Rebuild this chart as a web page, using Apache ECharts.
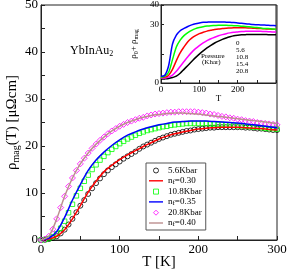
<!DOCTYPE html>
<html><head><meta charset="utf-8">
<script src="https://cdn.jsdelivr.net/npm/echarts@6/dist/echarts.min.js"></script>
<style>html,body{margin:0;padding:0;background:#fff}#c{width:287px;height:271px}</style>
</head><body><div id="c"></div>
<script>
// ---- data ----
const T5 = [0,5,10,15,20,25,30,35,40,45,50,55,60,65,70,75,80,85,90,95,100,105,110,115,120,125,130,135,140,145,150,155,160,165,170,175,180,185,190,195,200,205,210,215,220,225,230,235,240,245,250,255,260,265,270,275,280,285,290,295,300];
const T10 = [0,10,20,30,40,50,60,70,80,90,100,110,120,130,140,150,160,170,180,190,200,210,220,230,240,250,260,270,280,290,300];

// main panel: measured (markers, every 5 K)
const p56 = [0,0.05,0.2,0.45,0.8,1.4,2.2,3.3,4.5,5.9,7.3,8.5,9.8,11.0,12.1,13.1,14.0,14.8,15.5,16.1,16.7,17.3,17.8,18.3,18.8,19.4,19.9,20.3,20.7,21.1,21.5,21.8,22.1,22.4,22.6,22.8,23.0,23.2,23.3,23.5,23.6,23.7,23.8,23.9,23.9,24.0,24.0,24.0,24.0,24.0,24.0,24.0,23.9,23.9,23.8,23.7,23.7,23.6,23.5,23.4,23.4];
const p108 = [0,0.1,0.3,0.7,1.3,2.5,4.0,5.8,7.6,9.4,11.0,12.5,13.8,15.0,16.0,17.0,17.8,18.6,19.3,19.9,20.5,21.0,21.5,21.9,22.3,22.7,23.0,23.3,23.5,23.7,23.9,24.1,24.2,24.4,24.5,24.6,24.7,24.8,24.8,24.8,24.8,24.8,24.8,24.7,24.7,24.6,24.6,24.5,24.5,24.4,24.3,24.3,24.2,24.1,24.0,24.0,23.9,23.8,23.7,23.7,23.6];
const p208 = [0,0.2,0.8,2.3,4.5,6.9,9.3,11.4,13.2,14.8,16.2,17.4,18.5,19.5,20.4,21.2,21.9,22.6,23.2,23.7,24.2,24.6,25.0,25.3,25.6,25.9,26.1,26.4,26.6,26.8,26.9,27.0,27.1,27.2,27.2,27.3,27.3,27.3,27.3,27.3,27.2,27.1,27.0,26.8,26.7,26.5,26.3,26.2,26.0,25.9,25.7,25.6,25.4,25.3,25.2,25.0,24.9,24.8,24.7,24.6,24.5];
// main panel: fits (every 10 K)
const f30 = [0,0.2,0.8,2.2,4.5,7.3,10.2,12.5,14.5,15.9,17.1,18.1,19.0,19.9,20.7,21.5,22.1,22.6,23.0,23.3,23.6,23.8,23.9,24.0,24.0,24.0,23.9,23.8,23.7,23.5,23.4];
const f35 = [0,0.4,1.8,4.8,8.5,11.8,14.8,17.0,18.7,20.1,21.3,22.3,23.0,23.6,24.1,24.5,24.8,25.1,25.2,25.3,25.3,25.3,25.2,25.1,25.0,24.9,24.7,24.5,24.3,24.1,23.9];
const f40 = [0,0.8,4.5,9.3,13.2,16.2,18.5,20.4,21.9,23.2,24.2,25.0,25.6,26.1,26.5,26.7,26.9,27.0,27.0,26.9,26.8,26.6,26.4,26.2,26.0,25.8,25.6,25.4,25.2,25.0,24.8];
// inset: rho0 + rho_mag (every 10 K)
const i0   = [2.0,2.1,2.3,2.8,3.5,5.0,7.0,9.0,11.0,13.0,14.8,16.5,18.0,19.3,20.5,21.5,22.4,23.1,23.7,24.2,24.5,24.7,24.8,24.9,24.9,24.9,24.9,24.9,24.8,24.8,24.7];
const i56  = [2.5,2.6,3.0,4.0,6.0,8.5,11.0,13.5,15.7,17.6,19.2,20.6,21.7,22.7,23.5,24.2,24.8,25.3,25.7,26.0,26.2,26.4,26.5,26.6,26.6,26.6,26.5,26.4,26.3,26.2,26.1];
const i108 = [2.8,3.0,4.0,7.0,11.5,15.5,18.5,21.2,23.0,24.3,25.3,26.0,26.6,27.0,27.4,27.7,27.9,28.1,28.2,28.3,28.3,28.3,28.3,28.2,28.1,28.0,27.9,27.8,27.7,27.6,27.5];
const i154 = [3.0,3.5,5.5,12.0,18.5,22.0,24.3,25.8,27.0,27.9,28.5,28.9,29.2,29.4,29.5,29.6,29.6,29.6,29.5,29.4,29.3,29.1,29.0,28.8,28.6,28.4,28.2,28.0,27.9,27.7,27.6];
const i208 = [3.5,4.0,9.0,20.0,24.5,26.8,28.0,29.0,29.8,30.4,30.8,31.1,31.2,31.3,31.3,31.3,31.3,31.2,31.1,31.0,30.8,30.6,30.4,30.2,30.0,29.9,29.8,29.7,29.6,29.5,29.4];
const insetPressures = ['0','5.6','10.8','15.4','20.8'];

// ---- chart ----
const zip = (xs, ys) => xs.map((x, i) => [x, ys[i]]);
const FONT = 'Liberation Serif';
const chart = echarts.init(document.getElementById('c'), null, {renderer: 'canvas'});

const markerSeries = (name, data, symbol, color, size) => ({
  name, type: 'scatter', data: zip(T5, data), symbol, symbolSize: size,
  itemStyle: {color: 'rgba(0,0,0,0)', borderColor: color, borderWidth: 1},
  xAxisIndex: 0, yAxisIndex: 0, z: 2, silent: true
});
const fitSeries = (name, data, color) => ({
  name, type: 'line', data: zip(T10, data), symbol: 'none', smooth: 0.3,
  lineStyle: {color, width: 1.5}, itemStyle: {color},
  xAxisIndex: 0, yAxisIndex: 0, z: 3, silent: true
});
const insetSeries = (name, data, color) => ({
  name, type: 'line', data: zip(T10, data), symbol: 'none', smooth: 0.3,
  lineStyle: {color, width: 1.5}, itemStyle: {color},
  xAxisIndex: 1, yAxisIndex: 1, z: 12, silent: true
});

const legendRich = {
  n: {fontFamily: FONT, fontSize: 9, lineHeight: 10, color: '#000'},
  f: {fontFamily: FONT, fontSize: 7, lineHeight: 6, verticalAlign: 'bottom', color: '#000'}
};
const legMarker = (name, icon, color) => ({name, icon,
  itemStyle: {color: 'rgba(0,0,0,0)', borderColor: color, borderWidth: 1}});
const legLine = (name, color) => ({name, icon: 'path://M0,0H14V1.4H0Z',
  itemStyle: {color, borderWidth: 0}, lineStyle: {color, width: 1.5}});

const insetSer = [
  insetSeries('in 0', i0, '#000000'),
  insetSeries('in 5.6', i56, '#ff00ff'),
  insetSeries('in 10.8', i108, '#ff0000'),
  insetSeries('in 15.4', i154, '#00ff00'),
  insetSeries('in 20.8', i208, '#0000ff')
];
insetSer[0].markLine = {
  silent: true, symbol: ['none', 'arrow'], symbolSize: [0, 6],
  label: {show: false},
  lineStyle: {color: '#000', width: 1, type: 'solid'},
  data: [[{coord: [96, 15.5]}, {coord: [57, 32]}]]
};

const option = {
  animation: false,
  backgroundColor: '#fff',
  grid: [
    {left: 41, right: 10, top: 5, bottom: 31, outerBoundsMode: 'none', containLabel: false,
     show: true, borderColor: '#222', borderWidth: 1, z: 0},
    {left: 161, right: 11, top: 5, bottom: 188, outerBoundsMode: 'none', containLabel: false,
     show: true, borderColor: '#222', borderWidth: 1, backgroundColor: '#fff', z: 10}
  ],
  xAxis: [
    {type: 'value', gridIndex: 0, min: 0, max: 300, interval: 100,
     name: 'T [K]', nameLocation: 'middle', nameGap: 15, nameMoveOverlap: false,
     nameTextStyle: {fontFamily: FONT, fontSize: 15, color: '#000', verticalAlign: 'top'},
     axisLine: {lineStyle: {color: '#222'}},
     axisTick: {inside: true, length: 4, lineStyle: {color: '#222'}},
     minorTick: {show: true, splitNumber: 2, length: 4, lineStyle: {color: '#222'}},
     axisLabel: {fontFamily: FONT, fontSize: 13, color: '#000', margin: 3},
     splitLine: {show: false}},
    {type: 'value', gridIndex: 1, min: 0, max: 300, interval: 100,
     name: 'T', nameLocation: 'middle', nameGap: 11, nameMoveOverlap: false,
     nameTextStyle: {fontFamily: FONT, fontSize: 9, color: '#000'},
     axisLine: {lineStyle: {color: '#222'}},
     axisTick: {inside: true, length: 3, lineStyle: {color: '#222'}},
     minorTick: {show: true, splitNumber: 2, length: 3, lineStyle: {color: '#222'}},
     axisLabel: {fontFamily: FONT, fontSize: 9, color: '#000', margin: 2,
       formatter: v => (v === 300 ? '' : String(v))},
     splitLine: {show: false}, z: 11}
  ],
  yAxis: [
    {type: 'value', gridIndex: 0, min: 0, max: 50, interval: 10,
     name: '{r|ρ}{s|mag}{r|(T) [μΩcm]}', nameLocation: 'middle', nameGap: 20, nameRotate: 90,
     nameMoveOverlap: false,
     nameTextStyle: {rich: {
       r: {fontFamily: FONT, fontSize: 15, lineHeight: 18, color: '#000'},
       s: {fontFamily: FONT, fontSize: 10, lineHeight: 9, verticalAlign: 'bottom', color: '#000'}}},
     axisLine: {lineStyle: {color: '#222'}},
     axisTick: {inside: true, length: 4, lineStyle: {color: '#222'}},
     minorTick: {show: true, splitNumber: 2, length: 4, lineStyle: {color: '#222'}},
     axisLabel: {fontFamily: FONT, fontSize: 13, color: '#000', margin: 3},
     splitLine: {show: false}},
    {type: 'value', gridIndex: 1, min: 0, max: 40, interval: 30,
     name: '{r|ρ}{s|0}{r|+ ρ}{s|mag}', nameLocation: 'middle', nameGap: 22, nameRotate: 90,
     nameMoveOverlap: false,
     nameTextStyle: {rich: {
       r: {fontFamily: FONT, fontSize: 9, lineHeight: 11, color: '#000'},
       s: {fontFamily: FONT, fontSize: 6, lineHeight: 6, verticalAlign: 'bottom', color: '#000'}}},
     axisLine: {lineStyle: {color: '#222'}},
     axisTick: {inside: true, length: 3, lineStyle: {color: '#222'}},
     minorTick: {show: true, splitNumber: 2, length: 3, lineStyle: {color: '#222'}},
     axisLabel: {fontFamily: FONT, fontSize: 9, color: '#000', margin: 2},
     splitLine: {show: false}, z: 11}
  ],
  legend: {
    show: true, orient: 'vertical', left: 146, top: 163,
    padding: [3, 4, 2, 3], itemGap: 1.3, itemWidth: 14, itemHeight: 5,
    symbolKeepAspect: true,
    borderColor: '#555', borderWidth: 1, backgroundColor: '#fff',
    selectedMode: false,
    textStyle: {fontFamily: FONT, fontSize: 9, color: '#000', rich: legendRich},
    formatter: name => name.startsWith('n_f') ? '{n|n}{f|f}{n|' + name.slice(3) + '}' : '{n|' + name + '}',
    data: [
      legMarker('5.6Kbar', 'circle', '#000000'),
      legLine('n_f=0.30', '#ff0000'),
      legMarker('10.8Kbar', 'path://M0,0H5V5H0Z', '#00ff00'),
      legLine('n_f=0.35', '#0000ff'),
      legMarker('20.8Kbar', 'path://M3,0L6,3L3,6L0,3Z', '#ff00ff'),
      legLine('n_f=0.40', '#bc8f8f')
    ]
  },
  graphic: [
    {type: 'text', left: 70, top: 45, z: 20, style: {
      text: '{a|YbInAu}{b|2}', rich: {
        a: {fontFamily: FONT, fontSize: 12, lineHeight: 14, fill: '#000'},
        b: {fontFamily: FONT, fontSize: 8, lineHeight: 7, verticalAlign: 'bottom', fill: '#000'}}}},
    {type: 'text', left: 201, top: 53, z: 20, style: {text: 'Pressure', font: '7px ' + FONT, fill: '#000'}},
    {type: 'text', left: 202, top: 59, z: 20, style: {text: '(Khar)', font: '7px ' + FONT, fill: '#000'}},
    ...insetPressures.map((p, i) => ({type: 'text', left: 236, top: 40 + i * 6.8, z: 20,
      style: {text: p, font: '7px ' + FONT, fill: '#000'}}))
  ],
  series: [
    markerSeries('5.6Kbar', p56, 'circle', '#000000', 5),
    fitSeries('n_f=0.30', f30, '#ff0000'),
    markerSeries('10.8Kbar', p108, 'rect', '#00ff00', 4.5),
    fitSeries('n_f=0.35', f35, '#0000ff'),
    markerSeries('20.8Kbar', p208, 'diamond', '#ff00ff', 6),
    fitSeries('n_f=0.40', f40, '#bc8f8f'),
    ...insetSer
  ]
};
chart.setOption(option);
</script>
</body></html>
